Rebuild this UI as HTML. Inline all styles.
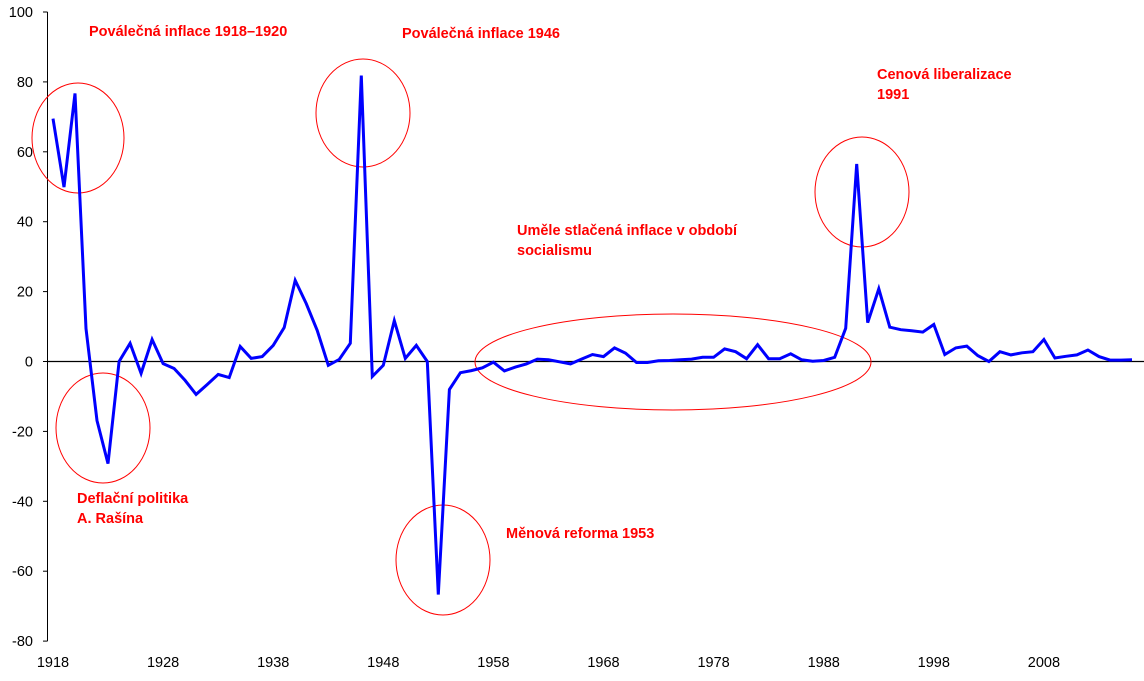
<!DOCTYPE html>
<html><head><meta charset="utf-8"><style>
body{margin:0;background:#fff;width:1144px;height:681px;overflow:hidden}
svg{display:block;font-family:"Liberation Sans",Arial,sans-serif}
.ann{fill:#ff0000;font-weight:bold;font-size:14.5px}
.tick{font-size:14.5px;fill:#000}
</style></head><body>
<svg id="chart" width="1144" height="681">
<g id="axes"></g>
<g id="ellipses" fill="none" stroke="#ff0000" stroke-width="1">
<ellipse cx="78" cy="138" rx="46" ry="55"/>
<ellipse cx="363" cy="113" rx="47" ry="54"/>
<ellipse cx="103" cy="428" rx="47" ry="55"/>
<ellipse cx="443" cy="560" rx="47" ry="55"/>
<ellipse cx="673" cy="362" rx="198" ry="48"/>
<ellipse cx="862" cy="192" rx="47" ry="55"/>
</g>
<g id="series"></g>
<text class="ann" x="89" y="36">Poválečná inflace 1918–1920</text>
<text class="ann" x="402" y="38">Poválečná inflace 1946</text>
<text class="ann" x="877" y="79">Cenová liberalizace</text>
<text class="ann" x="877" y="99">1991</text>
<text class="ann" x="517" y="235">Uměle stlačená inflace v období</text>
<text class="ann" x="517" y="255">socialismu</text>
<text class="ann" x="77" y="503">Deflační politika</text>
<text class="ann" x="77" y="523">A. Rašína</text>
<text class="ann" x="506" y="538">Měnová reforma 1953</text>
</svg>
<script>
const startYear = 1918;
const values = [69.5,49.9,76.7,9.4,-16.9,-29.2,0,5.2,-3.4,6.3,-0.6,-2,-5.4,-9.4,-6.6,-3.7,-4.6,4.3,0.9,1.4,4.6,9.7,23.2,16.6,8.9,-1.1,0.6,5.2,81.8,-4.3,-1.1,11.7,0.9,4.6,0,-66.7,-8.0,-3.2,-2.6,-1.8,-0.2,-2.7,-1.6,-0.7,0.7,0.5,-0.1,-0.7,0.7,2.0,1.4,3.9,2.4,-0.3,-0.3,0.2,0.3,0.5,0.7,1.2,1.2,3.6,2.8,0.8,4.8,0.8,0.8,2.2,0.5,0.1,0.3,1.2,9.5,56.5,11.1,20.8,9.8,9.1,8.8,8.4,10.6,2.0,3.9,4.4,1.7,0,2.8,1.9,2.5,2.8,6.3,1.0,1.5,1.9,3.3,1.4,0.4,0.4,0.5];
const yTicks = [100,80,60,40,20,0,-20,-40,-60,-80];
const xTickLabels = [1918,1928,1938,1948,1958,1968,1978,1988,1998,2008];
const NS='http://www.w3.org/2000/svg';
const x = yr => 53 + (yr - 1918) * 11.01;
const y = v => 361.5 - v * 3.495;
const axes=document.getElementById('axes');
function mk(tag,attrs,parent){const e=document.createElementNS(NS,tag);for(const k in attrs)e.setAttribute(k,attrs[k]);parent.appendChild(e);return e;}
let e=mk('line',{x1:47.5,x2:47.5,y1:y(100),y2:y(-80),stroke:'#000','stroke-width':1},axes);


e=mk('line',{x1:47.5,x2:1144,y1:y(0),y2:y(0),stroke:'#000','stroke-width':1.3},axes);


yTicks.forEach(t=>{
  const l=mk('line',{x1:43,x2:47.5,y1:y(t),y2:y(t),stroke:'#000'},axes);
  
  
  const tx=mk('text',{x:33,y:y(t)+5,'text-anchor':'end',class:'tick'},axes);
  tx.textContent=t;
  
  
});
xTickLabels.forEach(yr=>{
  const tx=mk('text',{x:x(yr),y:667,'text-anchor':'middle',class:'tick'},axes);
  tx.textContent=yr;
  
  
});
const pts=values.map((v,i)=>x(startYear+i).toFixed(1)+','+y(v).toFixed(1)).join(' ');
const pl=mk('polyline',{points:pts,fill:'none',stroke:'#0000ff','stroke-width':3,'stroke-linejoin':'miter','stroke-miterlimit':4},document.getElementById('series'));


</script>
</body></html>
